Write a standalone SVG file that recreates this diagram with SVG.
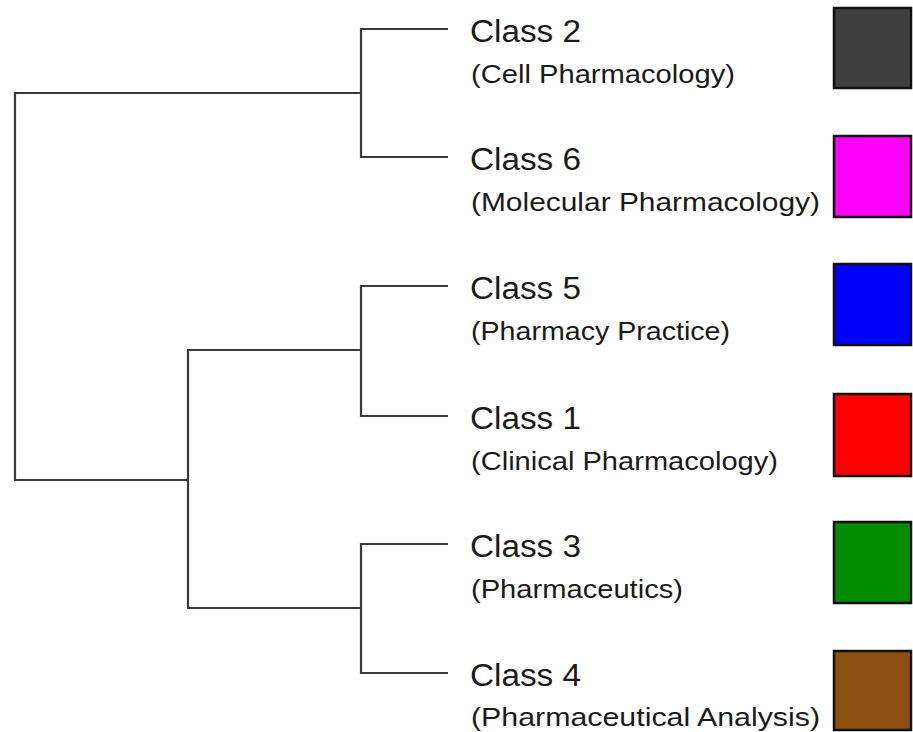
<svg xmlns="http://www.w3.org/2000/svg" width="913" height="732" viewBox="0 0 913 732">
  <style>
    .link { fill: none; stroke: #3a3a3a; stroke-width: 2.2; stroke-linejoin: miter; stroke-linecap: butt; }
    .title { font-family: "Liberation Sans", Arial, sans-serif; font-size: 31px; fill: #1a1a1a; }
    .sub { font-family: "Liberation Sans", Arial, sans-serif; font-size: 25px; fill: #1a1a1a; }
    .swatch { stroke: #111; stroke-width: 2.5; }
  </style>
  <rect x="0" y="0" width="913" height="732" fill="#ffffff"/>

  <!-- dendrogram links -->
  <g id="connectors">
    <path class="link" d="M448,29 H361 V157 H448"/>
    <path class="link" d="M361,93 H15 V480 H188"/>
    <path class="link" d="M448,286 H361 V416 H448"/>
    <path class="link" d="M361,350 H188 V608 H361"/>
    <path class="link" d="M448,544 H361 V673 H448"/>
  </g>

  <!-- leaf classes -->
  <g id="class2">
    <text class="title" x="470" y="42" textLength="111" lengthAdjust="spacingAndGlyphs">Class 2</text>
    <text class="sub" x="471" y="83" textLength="264" lengthAdjust="spacingAndGlyphs">(Cell Pharmacology)</text>
    <rect class="swatch" x="834" y="8" width="77" height="80" fill="#404040"/>
  </g>
  <g id="class6">
    <text class="title" x="470" y="170" textLength="111" lengthAdjust="spacingAndGlyphs">Class 6</text>
    <text class="sub" x="471" y="211" textLength="349" lengthAdjust="spacingAndGlyphs">(Molecular Pharmacology)</text>
    <rect class="swatch" x="834" y="136" width="77" height="81" fill="#ff00ff"/>
  </g>
  <g id="class5">
    <text class="title" x="470" y="299" textLength="111" lengthAdjust="spacingAndGlyphs">Class 5</text>
    <text class="sub" x="471" y="340" textLength="259" lengthAdjust="spacingAndGlyphs">(Pharmacy Practice)</text>
    <rect class="swatch" x="834" y="264" width="77" height="81" fill="#0000ff"/>
  </g>
  <g id="class1">
    <text class="title" x="470" y="429" textLength="111" lengthAdjust="spacingAndGlyphs">Class 1</text>
    <text class="sub" x="471" y="470" textLength="307" lengthAdjust="spacingAndGlyphs">(Clinical Pharmacology)</text>
    <rect class="swatch" x="834" y="394" width="77" height="82" fill="#ff0000"/>
  </g>
  <g id="class3">
    <text class="title" x="470" y="557" textLength="111" lengthAdjust="spacingAndGlyphs">Class 3</text>
    <text class="sub" x="471" y="598" textLength="212" lengthAdjust="spacingAndGlyphs">(Pharmaceutics)</text>
    <rect class="swatch" x="834" y="522" width="77" height="81" fill="#008c00"/>
  </g>
  <g id="class4">
    <text class="title" x="470" y="686" textLength="111" lengthAdjust="spacingAndGlyphs">Class 4</text>
    <text class="sub" x="471" y="726" textLength="349" lengthAdjust="spacingAndGlyphs">(Pharmaceutical Analysis)</text>
    <rect class="swatch" x="834" y="651" width="77" height="79" fill="#8b4f0f"/>
  </g>
</svg>
